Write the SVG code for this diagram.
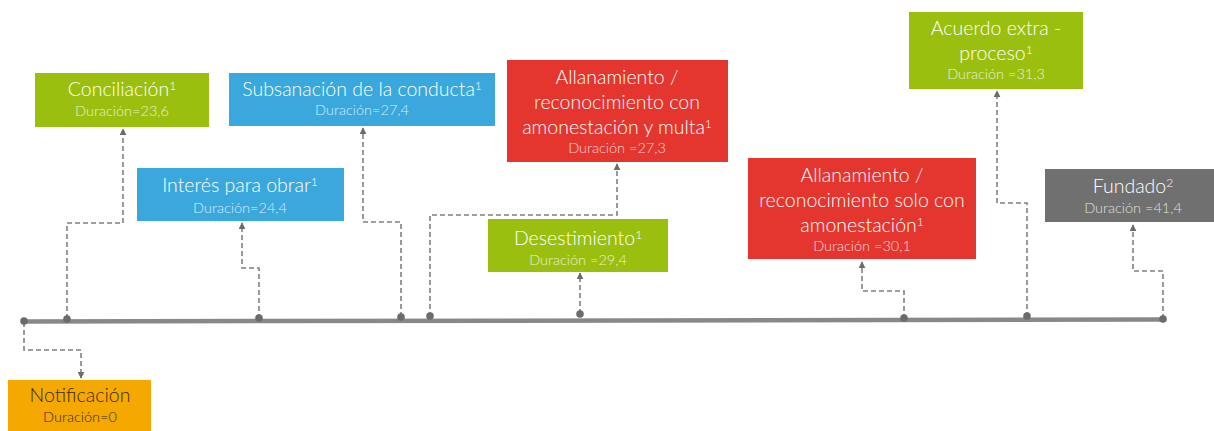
<svg xmlns="http://www.w3.org/2000/svg" width="1214" height="431" viewBox="0 0 1214 431">
<defs>
<marker id="arr" viewBox="0 0 10 10" refX="9" refY="5" markerWidth="7" markerHeight="7" markerUnits="userSpaceOnUse" orient="auto">
<path d="M0,0 L10,5 L0,10 z" fill="#6b6b6b"/>
</marker>
<style>
.t{font-family:Lato,"Liberation Sans",sans-serif;font-weight:300;font-size:19.5px;fill:#fff;text-anchor:middle}
.d{font-family:Lato,"Liberation Sans",sans-serif;font-weight:300;font-size:14.5px;fill:#fff;fill-opacity:0.8;text-anchor:middle}
.s{font-size:12px}
.dk{fill:#3a2a10;fill-opacity:1}
.c{fill:none;stroke:#808080;stroke-width:1.6;stroke-dasharray:5,3;marker-end:url(#arr)}
.dot{fill:#6b6b6b}
.g{fill:#9bbf0f}.b{fill:#3aa8dc}.r{fill:#e5352f}.gr{fill:#707070}.o{fill:#f5a800}
</style>
</defs>
<rect width="1214" height="431" fill="#fff"/>
<g id="timeline">
<path d="M24,321.5 L1163,319.5" stroke="#888" stroke-width="4.5"/>
</g>
<g id="connectors">
<path class="c" d="M24,322 V350 H81 V378"/>
<path class="c" d="M67,319 V223 H123 V129"/>
<path class="c" d="M259,319 V268 H242 V223"/>
<path class="c" d="M401,317 V222 H363 V128"/>
<path class="c" d="M430,317 V215 H617 V164"/>
<path class="c" d="M580,314 V273"/>
<path class="c" d="M904,319 V291 H862 V262"/>
<path class="c" d="M1027,317 V203 H997 V91"/>
<path class="c" d="M1163,319 V271 H1133 V225"/>
<circle class="dot" cx="24" cy="321" r="3.8"/>
<circle class="dot" cx="67" cy="319" r="3.8"/>
<circle class="dot" cx="259" cy="318" r="3.8"/>
<circle class="dot" cx="401" cy="317" r="3.8"/>
<circle class="dot" cx="430" cy="316" r="3.8"/>
<circle class="dot" cx="580" cy="314" r="3.8"/>
<circle class="dot" cx="904" cy="318" r="3.8"/>
<circle class="dot" cx="1027" cy="316" r="3.8"/>
<circle class="dot" cx="1163" cy="319" r="3.8"/>
</g>
<g id="notificacion">
<rect class="o" x="8" y="380" width="143" height="51"/>
<text class="t" x="80" y="402" style="fill:#3a2a10">Notificación</text>
<text class="d dk" x="80" y="422">Duración=0</text>
</g>
<g id="conciliacion">
<rect class="g" x="35" y="73" width="174" height="54"/>
<text class="t" x="122" y="96">Conciliación<tspan class="s" dy="-6">1</tspan></text>
<text class="d" x="122" y="116">Duración=23,6</text>
</g>
<g id="interes">
<rect class="b" x="137" y="168" width="207" height="53"/>
<text class="t" x="240" y="192">Interés para obrar<tspan class="s" dy="-6">1</tspan></text>
<text class="d" x="240" y="213">Duración=24,4</text>
</g>
<g id="subsanacion">
<rect class="b" x="229" y="73" width="266" height="53"/>
<text class="t" x="362" y="96">Subsanación de la conducta<tspan class="s" dy="-6">1</tspan></text>
<text class="d" x="362" y="115">Duración=27,4</text>
</g>
<g id="allanamiento-multa">
<rect class="r" x="507" y="60" width="221" height="102"/>
<text class="t" x="617" y="84">Allanamiento /</text>
<text class="t" x="617" y="109">reconocimiento con</text>
<text class="t" x="617" y="134">amonestación y multa<tspan class="s" dy="-6">1</tspan></text>
<text class="d" x="617" y="153">Duración =27,3</text>
</g>
<g id="desestimiento">
<rect class="g" x="488" y="219" width="180" height="53"/>
<text class="t" x="578" y="245">Desestimiento<tspan class="s" dy="-6">1</tspan></text>
<text class="d" x="578" y="265">Duración =29,4</text>
</g>
<g id="allanamiento-amonestacion">
<rect class="r" x="748" y="158" width="228" height="101"/>
<text class="t" x="862" y="182">Allanamiento /</text>
<text class="t" x="862" y="207">reconocimiento solo con</text>
<text class="t" x="862" y="232">amonestación<tspan class="s" dy="-6">1</tspan></text>
<text class="d" x="862" y="251">Duración =30,1</text>
</g>
<g id="acuerdo">
<rect class="g" x="909" y="12" width="174" height="77"/>
<text class="t" x="996" y="35">Acuerdo extra  -</text>
<text class="t" x="996" y="60">proceso<tspan class="s" dy="-6">1</tspan></text>
<text class="d" x="996" y="79">Duración =31,3</text>
</g>
<g id="fundado">
<rect class="gr" x="1045" y="169" width="169" height="53"/>
<text class="t" x="1133" y="193">Fundado<tspan class="s" dy="-6">2</tspan></text>
<text class="d" x="1133" y="213">Duración =41,4</text>
</g>
</svg>
